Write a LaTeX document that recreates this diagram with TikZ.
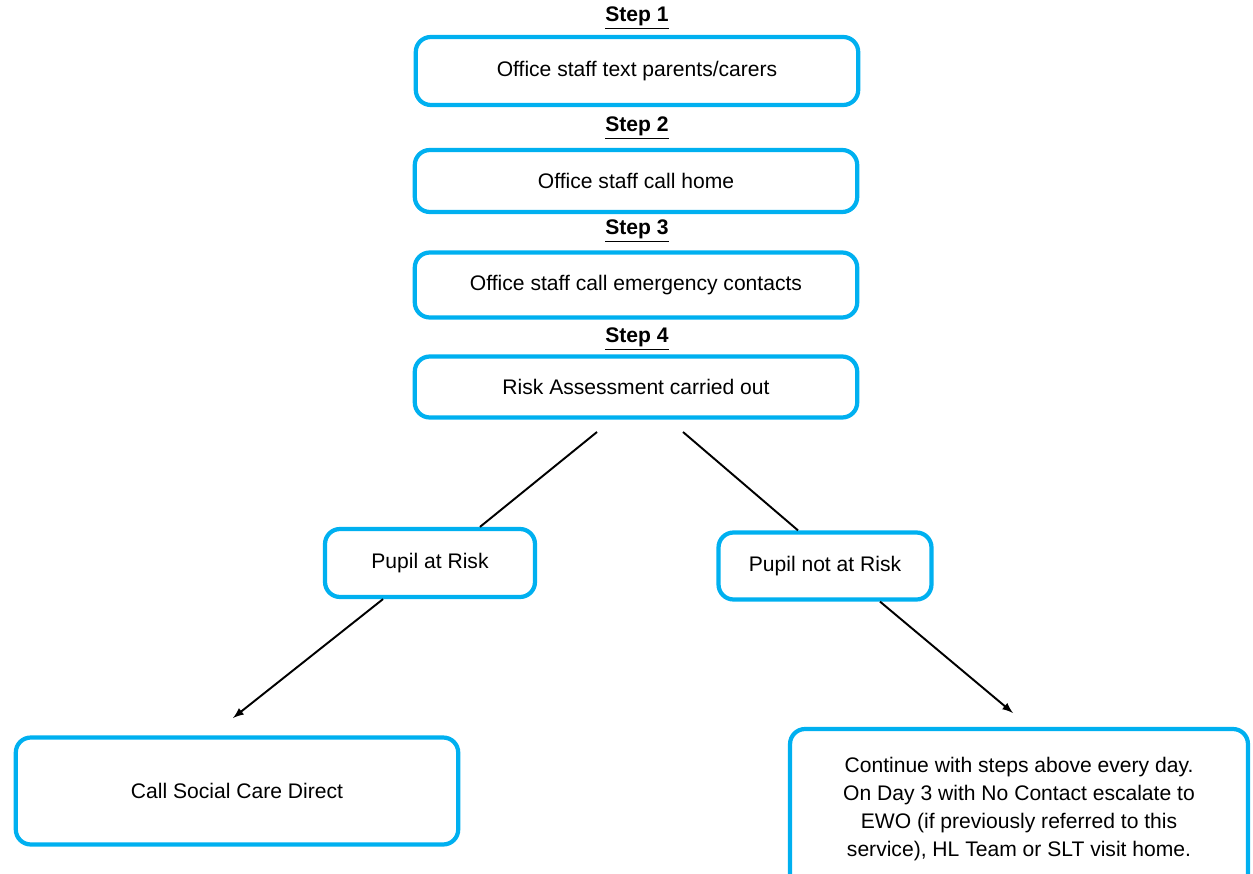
\documentclass[tikz,border=0pt]{standalone}
\usepackage{fontspec}
\setmainfont{Liberation Sans}
\definecolor{boxblue}{HTML}{00B0F0}
\begin{document}
\begin{tikzpicture}[x=0.02cm, y=-0.02cm]
	\tikzstyle{box}=[rectangle, rounded corners=3mm, draw=boxblue, line width=2.4pt, minimum width=8.85cm, font=\fontsize{12}{16}\selectfont]
	\tikzstyle{steplabel}=[font=\fontsize{12}{14}\selectfont\bfseries]
	\useasboundingbox (0, 0) rectangle (1253, 874);
	\draw node[steplabel] at (637, 18) (lab1) {\underline{Step 1}};
	\draw node[box, minimum height=1.36cm] at (637, 71) (step1) {Office staff text parents/carers};
	\draw node[steplabel] at (637, 128) (lab2) {\underline{Step 2}};
	\draw node[box, minimum height=1.24cm] at (636, 181) (step2) {Office staff call home};
	\draw node[steplabel] at (637, 231) (lab3) {\underline{Step 3}};
	\draw node[box, minimum height=1.3cm] at (636, 285) (step3) {Office staff call emergency contacts};
	\draw node[steplabel] at (637, 339) (lab4) {\underline{Step 4}};
	\draw node[box, minimum height=1.22cm] at (636, 387) (step4) {Risk Assessment carried out};
	\draw node[box, minimum width=4.2cm, minimum height=1.36cm] at (430, 563) (risk) {Pupil at Risk};
	\draw node[box, minimum width=4.26cm, minimum height=1.34cm] at (825, 566) (norisk) {Pupil not at Risk};
	\draw node[box, minimum height=2.14cm] at (237, 791) (social) {Call Social Care Direct};
	\draw node[box, minimum width=9.16cm, minimum height=3.2cm, align=center] at (1019, 809) (cont) {Continue with steps above every day.\\On Day 3 with No Contact escalate to\\EWO (if previously referred to this\\service), HL Team or SLT visit home.};

	\coordinate (s4l) at (597, 432);
	\coordinate (s4r) at (683, 432);
	\coordinate (tipl) at (233, 718);
	\coordinate (tipr) at (1013, 713);
	\draw [line width=1.1pt]  (s4l) -- ([xshift=1cm]risk.north);
	\draw [line width=1.1pt]  (s4r) -- ([xshift=-0.54cm]norisk.north);
	\draw [-latex, line width=1.1pt]  ([xshift=-0.94cm]risk.south) -- (tipl);
	\draw [-latex, line width=1.1pt]  ([xshift=1.1cm]norisk.south) -- (tipr);
\end{tikzpicture}
\end{document}
